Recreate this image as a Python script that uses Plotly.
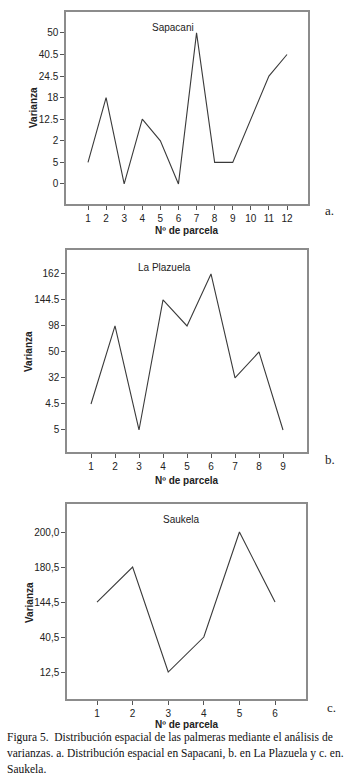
import plotly.graph_objects as go

W, H = 352, 784

# ---- data ----
sap_parcels = [1, 2, 3, 4, 5, 6, 7, 8, 9, 10, 11, 12]
sap_values = ["5", "18", "0", "12.5", "2", "0", "50", "5", "5", "12.5", "24.5", "40.5"]
sap_ticks = ["0", "5", "2", "12.5", "18", "24.5", "40.5", "50"]

pla_parcels = [1, 2, 3, 4, 5, 6, 7, 8, 9]
pla_values = ["4.5", "98", "5", "144.5", "98", "162", "32", "50", "5"]
pla_ticks = ["5", "4.5", "32", "50", "98", "144.5", "162"]

sau_parcels = [1, 2, 3, 4, 5, 6]
sau_values = ["144,5", "180,5", "12,5", "40,5", "200,0", "144,5"]
sau_ticks = ["12,5", "40,5", "144,5", "180,5", "200,0"]

titles = ["Sapacani", "La Plazuela", "Saukela"]
letters = ["a.", "b.", "c."]
xlabel = "Nº de parcela"
ylabel = "Varianza"
caption = ["Figura 5.  Distribución espacial de las palmeras mediante el análisis de",
           "varianzas. a. Distribución espacial en Sapacani, b. en La Plazuela y c. en.",
           "Saukela."]


def px(x):
    return x / W


def py(y):
    return 1 - y / H


panels = [
    dict(parcels=sap_parcels, values=sap_values, ticks=sap_ticks,
         box=(66, 12, 308, 204), xr=[-0.216, 13.16], yr=[-0.93, 7.97],
         title=(173, 28), ylab=(34, 108), xlab=(187, 230), letter=(329, 211)),
    dict(parcels=pla_parcels, values=pla_values, ticks=pla_ticks,
         box=(67, 250, 307, 452), xr=[0, 10], yr=[-0.846, 6.92],
         title=(164, 267), ylab=(28, 352), xlab=(187, 480), letter=(330, 459)),
    dict(parcels=sau_parcels, values=sau_values, ticks=sau_ticks,
         box=(67, 504, 306, 699), xr=[0.157, 6.87], yr=[-0.77, 4.8],
         title=(181, 519), ylab=(29, 603), xlab=(187, 724), letter=(331, 707)),
]

fig = go.Figure()
annotations = []
sans = "Liberation Sans, Arial, sans-serif"
serif = "Liberation Serif, Times New Roman, serif"
axcol = "#8c8c8c"

layout = dict(width=W, height=H, margin=dict(l=0, r=0, t=0, b=0),
              paper_bgcolor="white", plot_bgcolor="white", showlegend=False)

for i, p in enumerate(panels):
    sfx = "" if i == 0 else str(i + 1)
    fig.add_trace(go.Scatter(x=p["parcels"], y=p["values"], mode="lines",
                             line=dict(color="#3a3a3a", width=1.1),
                             xaxis="x" + sfx, yaxis="y" + sfx, hoverinfo="skip"))
    x0, y0, x1, y1 = p["box"]
    layout["xaxis" + sfx] = dict(
        domain=[px(x0), px(x1)], anchor="y" + sfx, range=p["xr"],
        tickmode="array", tickvals=p["parcels"], ticktext=[str(v) for v in p["parcels"]],
        showgrid=False, zeroline=False, showline=True, mirror=True,
        linecolor=axcol, linewidth=1.5, ticks="outside", ticklen=4,
        tickcolor="#555", tickwidth=1,
        tickfont=dict(family=sans, size=10, color="#222"))
    layout["yaxis" + sfx] = dict(
        domain=[py(y1), py(y0)], anchor="x" + sfx, type="category",
        categoryorder="array", categoryarray=p["ticks"], range=p["yr"],
        showgrid=False, zeroline=False, showline=True, mirror=True,
        linecolor=axcol, linewidth=1.5, ticks="outside", ticklen=4,
        tickcolor="#555", tickwidth=1,
        tickfont=dict(family=sans, size=10, color="#222"))
    annotations.append(dict(text=titles[i], x=px(p["title"][0]), y=py(p["title"][1]),
                            xref="paper", yref="paper", showarrow=False,
                            xanchor="center", yanchor="middle",
                            font=dict(family=sans, size=10, color="#222")))
    annotations.append(dict(text="<b>" + ylabel + "</b>", x=px(p["ylab"][0]), y=py(p["ylab"][1]),
                            xref="paper", yref="paper", showarrow=False, textangle=-90,
                            xanchor="center", yanchor="middle",
                            font=dict(family=sans, size=10, color="#222")))
    annotations.append(dict(text="<b>" + xlabel + "</b>", x=px(p["xlab"][0]), y=py(p["xlab"][1]),
                            xref="paper", yref="paper", showarrow=False,
                            xanchor="center", yanchor="middle",
                            font=dict(family=sans, size=10, color="#222")))
    annotations.append(dict(text=letters[i], x=px(p["letter"][0]), y=py(p["letter"][1]),
                            xref="paper", yref="paper", showarrow=False,
                            xanchor="center", yanchor="middle",
                            font=dict(family=serif, size=13, color="#222")))

cap_y = [737, 753, 769]
for line, yy in zip(caption, cap_y):
    annotations.append(dict(text=line, x=px(5), y=py(yy), xref="paper", yref="paper",
                            showarrow=False, xanchor="left", yanchor="middle",
                            font=dict(family=serif, size=11.5, color="#111")))

layout["annotations"] = annotations
fig.update_layout(**layout)
fig.write_html("out.html", config={"displayModeBar": False},
               post_script="document.body.style.margin='0px';")
